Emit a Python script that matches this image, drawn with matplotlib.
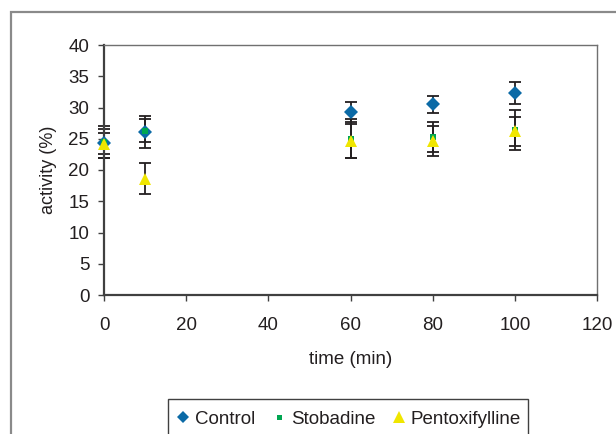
import matplotlib.pyplot as plt
from matplotlib.patches import Rectangle
from matplotlib.lines import Line2D

plt.rcParams['font.family'] = ['Liberation Sans', 'DejaVu Sans']

# Data
time_min = [0, 10, 60, 80, 100]
control = [24.3, 26.1, 29.3, 30.5, 32.3]
control_err = [2.3, 2.6, 1.6, 1.3, 1.8]
stobadine = [24.5, 26.3, 25.0, 25.3, 26.4]
stobadine_err = [2.5, 1.8, 3.1, 2.4, 3.2]
pentox = [24.2, 18.6, 24.6, 24.6, 26.2]
pentox_err = [1.7, 2.5, 2.7, 2.4, 2.3]

blue = '#0b6aa6'
green = '#00a651'
yellow = '#f0e600'
ink = '#231f20'

W, H = 616, 434
fig = plt.figure(figsize=(W / 100, H / 100), dpi=100, facecolor='white')
ax = fig.add_axes([104 / W, 1 - 295 / H, (597 - 104) / W, (295 - 45) / H])

# outer chart border (runs off the right/bottom edges)
fig.patches.append(Rectangle((11 / W, -0.2), 1.2, 1 - 12 / H + 0.2,
                             transform=fig.transFigure, fill=False,
                             edgecolor='#8a8a8a', linewidth=1.6))

series = [(control, control_err, 'D', blue, 7, 'Control'),
          (stobadine, stobadine_err, 's', green, 4, 'Stobadine'),
          (pentox, pentox_err, '^', yellow, 9, 'Pentoxifylline')]

for vals, errs, mk, col, ms, lab in series:
    eb = ax.errorbar(time_min, vals, yerr=errs, fmt='none', ecolor=ink,
                     elinewidth=1.3, capsize=4.5, capthick=1.3, zorder=2)
    for art in eb.lines[1] + eb.lines[2]:
        art.set_clip_on(False)
for i, (vals, errs, mk, col, ms, lab) in enumerate(series):
    ax.plot(time_min, vals, linestyle='none', marker=mk, color=col,
            markersize=ms, markeredgewidth=0, zorder=3 + i, clip_on=False)

ax.set_xlim(0, 120)
ax.set_ylim(0, 40)
ax.set_xticks(range(0, 121, 20))
ax.set_yticks(range(0, 41, 5))
ax.tick_params(direction='out', length=4, width=1, colors='#404040',
               labelcolor=ink, labelsize=13.5)
ax.tick_params(axis='x', pad=12)
ax.tick_params(axis='y', pad=6.5)
for side in ['left', 'bottom']:
    ax.spines[side].set_color('#404040')
    ax.spines[side].set_linewidth(1.6)
for side in ['top', 'right']:
    ax.spines[side].set_color('#707070')
    ax.spines[side].set_linewidth(1.0)
ax.set_xlabel('time (min)', fontsize=13.5, color=ink, labelpad=12)
ax.set_ylabel('activity (%)', fontsize=13, color=ink, labelpad=8)

# legend with a box running off the bottom edge
fig.patches.append(Rectangle((168 / W, -0.1), (528 - 168) / W, 0.1 + 1 - 399 / H,
                             transform=fig.transFigure, fill=False,
                             edgecolor='#404040', linewidth=1.0))
handles = [Line2D([], [], linestyle='none', marker=mk, color=col,
                  markersize=ms * 0.9, markeredgewidth=0, label=lab)
           for (vals, errs, mk, col, ms, lab) in series]
fig.legend(handles=handles, loc='center left',
           bbox_to_anchor=(177 / W, 1 - 419 / H), ncol=3, frameon=False,
           fontsize=13.5, handlelength=0.6, handletextpad=0.35,
           columnspacing=0.95, borderpad=0, borderaxespad=0, labelcolor=ink)

fig.savefig('out.png', dpi=100, facecolor='white')
